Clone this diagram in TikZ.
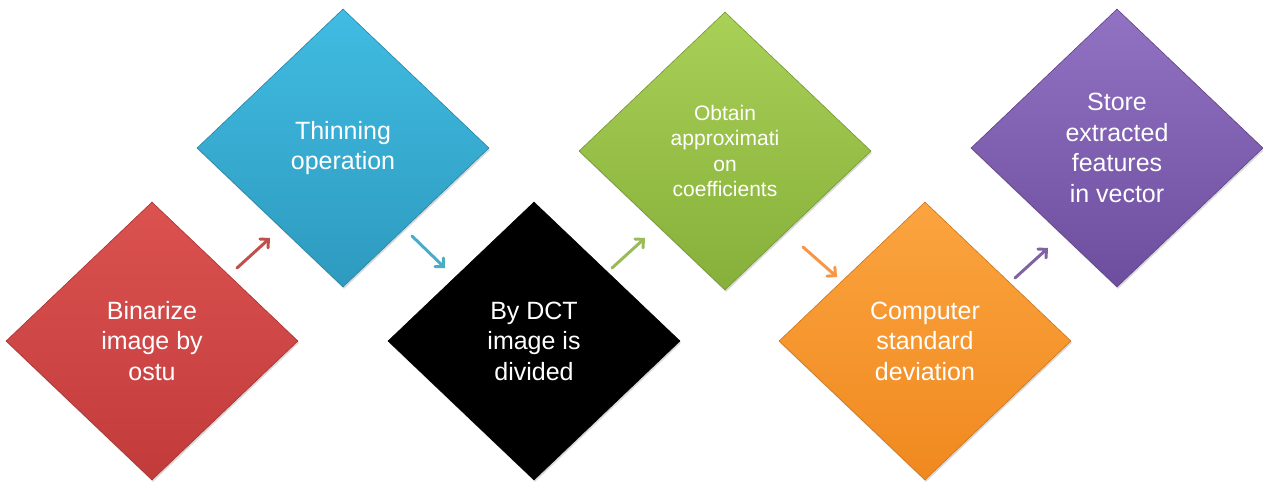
\documentclass[tikz,border=0pt]{standalone}
\usepackage{fontspec}
\setmainfont{Liberation Sans}
\usetikzlibrary{shapes.geometric,shadows,arrows.meta,calc}

% fill colours of the six steps (top / bottom of the gradient)
\definecolor{redtop}{HTML}{DB5250}
\definecolor{redbot}{HTML}{C23B3B}
\definecolor{bluetop}{HTML}{41BCE2}
\definecolor{bluebot}{HTML}{2E9ABF}
\definecolor{greentop}{HTML}{A9D057}
\definecolor{greenbot}{HTML}{86B03A}
\definecolor{orangetop}{HTML}{FBA43F}
\definecolor{orangebot}{HTML}{F0891F}
\definecolor{purpletop}{HTML}{9272C2}
\definecolor{purplebot}{HTML}{6D4E9E}
% arrow colours
\definecolor{redline}{HTML}{C0504D}
\definecolor{blueline}{HTML}{4BACC6}
\definecolor{greenline}{HTML}{9BBB59}
\definecolor{orangeline}{HTML}{F79646}
\definecolor{purpleline}{HTML}{8064A2}

\begin{document}
\begin{tikzpicture}[x=1pt, y=1pt,
   stepbox/.style={diamond, minimum width=292pt, minimum height=278pt,
       inner sep=0pt, align=center, text=white,
       font=\fontsize{25}{30.5}\selectfont,
       top color=#1top, bottom color=#1bot, draw=#1bot!85!black, line width=0.6pt,
       drop shadow={opacity=0.3, shadow xshift=1pt, shadow yshift=-2pt}},
   flow/.style={draw=#1, line width=3pt, line cap=round,
       -{Straight Barb[length=6pt, width=12pt, line cap=round]}}]

\useasboundingbox (0,0) rectangle (1263,483);

\node[stepbox=red] (binarize) at (152,142) {Binarize\\image by\\ostu};
\node[stepbox=blue] (thinning) at (343,335) {Thinning\\operation};
\node[stepbox=red, top color=black, bottom color=black, draw=black]
    (dct) at (534,142) {By DCT\\image is\\divided};
\node[stepbox=green, font=\fontsize{21}{25.5}\selectfont]
    (approx) at (725,332) {Obtain\\approximati\\on\\coefficients};
\node[stepbox=orange] (deviation) at (925,142) {Computer\\standard\\deviation};
\node[stepbox=purple] (store) at (1117,335) {Store\\extracted\\features\\in vector};

% short arrows in the gaps between the steps
\draw[flow=redline] ($(binarize)+(85,73)$) -- ($(thinning)+(-73,-90)$);
\draw[flow=blueline] ($(thinning)+(69,-88)$) -- ($(dct)+(-89,73)$);
\draw[flow=greenline] ($(dct)+(78,73)$) -- ($(approx)+(-80,-87)$);
\draw[flow=orangeline] ($(approx)+(78,-96)$) -- ($(deviation)+(-88,64)$);
\draw[flow=purpleline] ($(deviation)+(90,63)$) -- ($(store)+(-69,-100)$);

\end{tikzpicture}
\end{document}
